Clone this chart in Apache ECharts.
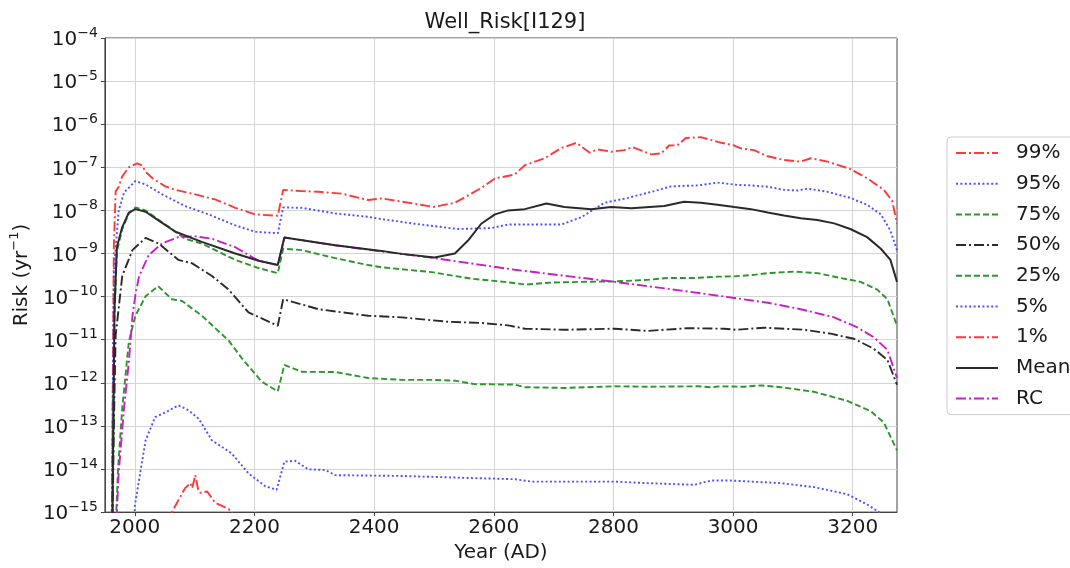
<!DOCTYPE html>
<html>
<head>
<meta charset="utf-8">
<script src="https://cdn.jsdelivr.net/npm/echarts@6/dist/echarts.min.js"></script>
<style>
  html, body { margin: 0; padding: 0; background: #fff; }
  #chart { width: 1070px; height: 568px; }
</style>
</head>
<body>
<div id="chart"></div>
<script>
// Well risk for I129 over time: [year (AD), risk (1/yr)]
const p99 = [[1961,1e-16],[1965,1.5e-9],[1968,2.8e-8],[1973,3.5e-8],[1979,6.2e-8],[1990,1.0e-7],[2004,1.23e-7],[2012,1.1e-7],[2018,7.9e-8],[2030,5.5e-8],[2051,3.6e-8],[2068,3.0e-8],[2101,2.35e-8],[2134,1.8e-8],[2168,1.15e-8],[2201,8.1e-9],[2239,7.5e-9],[2248,3.0e-8],[2280,2.8e-8],[2307,2.7e-8],[2346,2.45e-8],[2390,1.74e-8],[2412,1.9e-8],[2446,1.6e-8],[2499,1.2e-8],[2535,1.5e-8],[2579,3.3e-8],[2602,5.5e-8],[2635,6.8e-8],[2652,1.12e-7],[2685,1.62e-7],[2713,2.8e-7],[2738,3.7e-7],[2760,2.2e-7],[2774,2.6e-7],[2796,2.3e-7],[2818,2.5e-7],[2832,2.95e-7],[2863,2.0e-7],[2880,2.1e-7],[2893,3.2e-7],[2907,3.25e-7],[2921,4.8e-7],[2946,5.0e-7],[2974,3.9e-7],[3002,3.2e-7],[3013,2.75e-7],[3035,2.5e-7],[3058,1.8e-7],[3085,1.48e-7],[3113,1.35e-7],[3130,1.62e-7],[3158,1.35e-7],[3196,9.1e-8],[3224,5.6e-8],[3252,3.0e-8],[3266,1.66e-8],[3274,4.9e-9]];
const p95 = [[1961,1e-16],[1965,4e-10],[1973,9.8e-9],[1982,2.6e-8],[2001,4.8e-8],[2018,4.0e-8],[2046,2.35e-8],[2084,1.26e-8],[2123,8.1e-9],[2168,4.5e-9],[2201,3.2e-9],[2239,2.95e-9],[2248,1.17e-8],[2279,1.15e-8],[2335,8.5e-9],[2390,7.1e-9],[2412,6.3e-9],[2468,4.9e-9],[2540,3.7e-9],[2596,3.9e-9],[2624,4.7e-9],[2713,4.7e-9],[2746,6.9e-9],[2785,1.5e-8],[2824,1.95e-8],[2868,2.8e-8],[2896,3.6e-8],[2941,3.8e-8],[2974,4.4e-8],[3007,3.9e-8],[3030,3.8e-8],[3058,3.55e-8],[3085,3.0e-8],[3108,2.9e-8],[3124,3.2e-8],[3158,2.7e-8],[3196,1.95e-8],[3224,1.35e-8],[3247,8.1e-9],[3263,3.4e-9],[3274,1.2e-9]];
const p75 = [[1962,1e-16],[1966,3e-11],[1970,1.1e-9],[1979,3.7e-9],[1990,8.5e-9],[2001,1.17e-8],[2018,1.0e-8],[2057,4.1e-9],[2084,2.2e-9],[2112,1.7e-9],[2168,7.1e-10],[2207,4.6e-10],[2239,3.5e-10],[2248,1.29e-9],[2279,1.2e-9],[2335,7.8e-10],[2390,5.4e-10],[2412,4.8e-10],[2496,3.7e-10],[2563,2.6e-10],[2618,2.2e-10],[2654,1.9e-10],[2691,2.1e-10],[2746,2.2e-10],[2802,2.25e-10],[2857,2.45e-10],[2891,2.7e-10],[2935,2.7e-10],[2974,2.9e-10],[3002,2.95e-10],[3035,3.2e-10],[3058,3.5e-10],[3102,3.8e-10],[3141,3.5e-10],[3180,2.7e-10],[3213,2.2e-10],[3241,1.45e-10],[3258,8.7e-11],[3274,2.1e-11]];
const p50 = [[1962,1e-16],[1965,1e-13],[1968,1.26e-11],[1979,3.0e-10],[1996,1.2e-9],[2018,2.3e-9],[2040,1.7e-9],[2073,7.1e-10],[2096,5.9e-10],[2129,3.0e-10],[2157,1.45e-10],[2190,4.3e-11],[2239,2.1e-11],[2248,8.7e-11],[2307,5.1e-11],[2390,3.6e-11],[2446,3.3e-11],[2524,2.6e-11],[2579,2.45e-11],[2624,2.15e-11],[2652,1.8e-11],[2718,1.7e-11],[2802,1.8e-11],[2857,1.6e-11],[2924,1.85e-11],[2985,1.8e-11],[3005,1.7e-11],[3052,1.9e-11],[3119,1.7e-11],[3163,1.38e-11],[3202,1.05e-11],[3235,6.2e-12],[3258,3.4e-12],[3274,9e-13]];
const p25 = [[1966,1e-16],[1972,1e-14],[1979,2.6e-13],[1990,8.9e-12],[2001,3.6e-11],[2018,1.02e-10],[2039,1.74e-10],[2062,8.7e-11],[2079,7.9e-11],[2112,3.6e-11],[2157,9.5e-12],[2179,3.7e-12],[2212,1.07e-12],[2239,6.3e-13],[2250,2.6e-12],[2279,1.8e-12],[2335,1.78e-12],[2390,1.29e-12],[2446,1.17e-12],[2496,1.17e-12],[2535,1.12e-12],[2568,9.3e-13],[2635,9.1e-13],[2652,7.9e-13],[2718,7.6e-13],[2802,8.3e-13],[2857,8.1e-13],[2941,8.3e-13],[2963,7.9e-13],[2979,8.3e-13],[3018,8.1e-13],[3046,8.7e-13],[3080,7.9e-13],[3135,6.2e-13],[3191,3.8e-13],[3230,2.2e-13],[3252,1.2e-13],[3274,2.7e-14]];
const p05 = [[1998,1e-16],[2000,1.4e-15],[2018,4.6e-14],[2034,1.6e-13],[2051,2.05e-13],[2073,3.0e-13],[2090,2.3e-13],[2107,1.45e-13],[2129,4.6e-14],[2162,2.3e-14],[2190,7.9e-15],[2218,4.0e-15],[2237,3.3e-15],[2250,1.48e-14],[2268,1.55e-14],[2290,9.8e-15],[2318,9.5e-15],[2335,7.2e-15],[2446,6.9e-15],[2557,6.2e-15],[2635,5.8e-15],[2663,5.1e-15],[2802,5.1e-15],[2857,4.7e-15],[2935,4.3e-15],[2963,5.4e-15],[2996,5.4e-15],[3080,4.7e-15],[3135,3.8e-15],[3191,2.6e-15],[3224,1.5e-15],[3244,1.0e-15],[3274,2e-16]];
const p01 = [[2055,5e-16],[2062,1.0e-15],[2084,3.6e-15],[2093,4.7e-15],[2096,3.6e-15],[2101,7.2e-15],[2106,3.3e-15],[2109,2.8e-15],[2121,3.0e-15],[2134,1.66e-15],[2157,1.17e-15],[2170,7e-16]];
const mean = [[1962,1e-16],[1966,5e-11],[1970,1.4e-9],[1979,4.1e-9],[1990,8.9e-9],[2001,1.07e-8],[2018,9.3e-9],[2040,5.8e-9],[2068,3.2e-9],[2112,1.86e-9],[2168,1.0e-9],[2207,6.8e-10],[2239,5.4e-10],[2250,2.35e-9],[2335,1.55e-9],[2412,1.15e-9],[2446,9.8e-10],[2501,8.1e-10],[2535,1.0e-9],[2557,2.0e-9],[2579,4.9e-9],[2602,8.1e-9],[2624,1.0e-8],[2652,1.07e-8],[2688,1.45e-8],[2718,1.2e-8],[2763,1.07e-8],[2796,1.2e-8],[2830,1.12e-8],[2885,1.26e-8],[2918,1.58e-8],[2946,1.5e-8],[2974,1.35e-8],[3002,1.2e-8],[3030,1.07e-8],[3058,8.9e-9],[3085,7.6e-9],[3113,6.6e-9],[3141,6.0e-9],[3169,5.0e-9],[3196,3.7e-9],[3224,2.4e-9],[3247,1.29e-9],[3263,7.1e-10],[3274,2.2e-10]];
const rc = [[1967,1e-16],[1973,8e-15],[1982,2.6e-13],[1990,3e-12],[1996,3.5e-11],[2001,1.1e-10],[2007,2.9e-10],[2023,9.1e-10],[2046,1.74e-9],[2073,2.4e-9],[2101,2.5e-9],[2129,2.2e-9],[2168,1.4e-9],[2196,8.3e-10],[2207,6.8e-10],[2239,5.4e-10],[2250,2.35e-9],[2335,1.55e-9],[2412,1.12e-9],[2501,7.8e-10],[2635,4.2e-10],[2802,2.2e-10],[2913,1.38e-10],[3002,9.3e-11],[3058,7.2e-11],[3113,5.1e-11],[3169,3.3e-11],[3207,1.95e-11],[3235,1.15e-11],[3258,5.8e-12],[3274,1.3e-12]];

const xTicks = [2000, 2200, 2400, 2600, 2800, 3000, 3200];
const legendNames = ['99%', '95%', '75%', '50%', '25%', '5%', '1%', 'Mean', 'RC'];

const FONT = 'DejaVu Sans';
const RED = '#ff3838', BLUE = '#4f4fff', GREEN = '#2b962b', DARK = '#2a2a2a', MAG = '#c81ec8';
const DASHDOT = [10, 3, 2, 3], DASHED = [6, 3], DOTTED = [2, 2.4];

function line(name, data, color, dash, width, z) {
  return {
    name: name, type: 'line', data: data, symbol: 'none', smooth: false,
    clip: true, z: z || 2,
    lineStyle: { color: color, width: width || 1.9, type: dash },
    itemStyle: { color: color }
  };
}

const chart = echarts.init(document.getElementById('chart'), null, { renderer: 'canvas' });
chart.setOption({
  animation: false,
  backgroundColor: '#ffffff',
  textStyle: { fontFamily: FONT },
  title: {
    text: 'Well_Risk[I129]', left: 500, top: 7, textAlign: 'center',
    textStyle: { fontFamily: FONT, fontSize: 21, fontWeight: 'normal', color: '#1a1a1a' }
  },
  grid: {
    left: 103, right: 173, top: 38, bottom: 48,
    show: true, borderColor: '#444', borderWidth: 1, backgroundColor: '#fff'
  },
  legend: {
    orient: 'vertical', left: 947, top: 137,
    data: legendNames,
    itemWidth: 42, itemHeight: 14, itemGap: 10.7,
    padding: [6, 8, 6, 8],
    borderColor: '#cccccc', borderWidth: 1, borderRadius: 4, backgroundColor: '#fff',
    itemStyle: { opacity: 0, borderWidth: 0 },
    textStyle: { fontFamily: FONT, fontSize: 20, color: '#1a1a1a', lineHeight: 20, padding: [0, 0, 0, 13] },
    selectedMode: false
  },
  xAxis: {
    type: 'value', min: 1950, max: 3274,
    name: 'Year (AD)', nameLocation: 'middle', nameGap: 27,
    nameTextStyle: { fontFamily: FONT, fontSize: 20, color: '#1a1a1a' },
    axisLine: { show: true, lineStyle: { color: '#444', width: 1 } },
    axisTick: { show: true, inside: false, length: 4, customValues: xTicks, lineStyle: { color: '#444' } },
    axisLabel: {
      customValues: xTicks, margin: 6, fontFamily: FONT, fontSize: 20, color: '#1a1a1a',
      formatter: function (v) { return String(v); }
    },
    splitLine: { show: true, lineStyle: { color: '#d4d4d4', width: 1 } }
  },
  yAxis: {
    type: 'log', logBase: 10, min: 1e-15, max: 1e-4, interval: 1,
    name: '{n|Risk (yr}{s|−1}{n|)}', nameLocation: 'middle', nameGap: 60,
    nameTextStyle: {
      fontFamily: FONT, color: '#1a1a1a',
      rich: {
        n: { fontFamily: FONT, fontSize: 20, color: '#1a1a1a', lineHeight: 24, verticalAlign: 'bottom' },
        s: { fontFamily: FONT, fontSize: 13, color: '#1a1a1a', lineHeight: 13, verticalAlign: 'top' }
      }
    },
    axisLine: { show: true, lineStyle: { color: '#444', width: 1 } },
    axisTick: { show: true, inside: false, length: 4, lineStyle: { color: '#444' } },
    minorTick: { show: false },
    axisLabel: {
      margin: 7,
      formatter: function (v) {
        const e = Math.round(Math.log10(v));
        return '{b|10}{s|−' + Math.abs(e) + '}';
      },
      rich: {
        b: { fontFamily: FONT, fontSize: 20, color: '#1a1a1a', lineHeight: 24, verticalAlign: 'bottom' },
        s: { fontFamily: FONT, fontSize: 14, color: '#1a1a1a', lineHeight: 13, verticalAlign: 'top' }
      }
    },
    splitLine: { show: true, lineStyle: { color: '#d4d4d4', width: 1 } }
  },
  series: [
    line('99%', p99, RED, DASHDOT),
    line('95%', p95, BLUE, DOTTED),
    line('75%', p75, GREEN, DASHED),
    line('50%', p50, DARK, DASHDOT),
    line('25%', p25, GREEN, DASHED),
    line('5%', p05, BLUE, DOTTED),
    line('1%', p01, RED, DASHDOT),
    line('Mean', mean, DARK, 'solid', 2, 4),
    line('RC', rc, MAG, DASHDOT, 1.9, 3)
  ]
});
</script>
</body>
</html>
